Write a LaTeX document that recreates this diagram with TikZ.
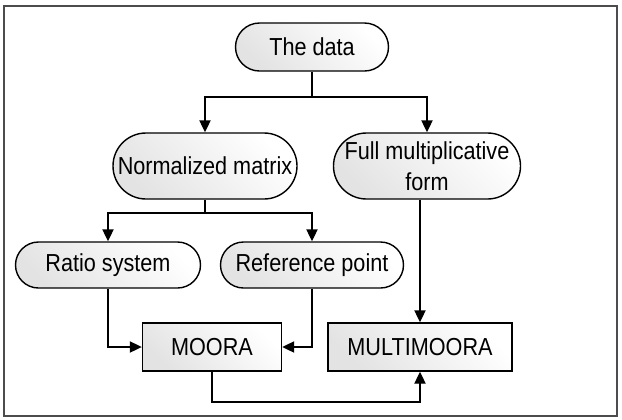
\documentclass[tikz,border=0pt]{standalone}
\usepackage{fontspec}
\setmainfont{Liberation Sans}[FakeStretch=0.88]
\usetikzlibrary{shapes.misc,arrows.meta}

\begin{document}
\begin{tikzpicture}[x=0.5pt, y=-0.5pt, line width=0.7pt,
		every node/.style={draw, align=center, font=\fontsize{12.3}{15.5}\selectfont,
		top color=white, bottom color=black!11, shading angle=-45},
		term/.style={rounded rectangle, inner sep=0pt},
		proc/.style={rectangle, inner sep=0pt},
		flow/.style={-{Triangle[length=6pt, width=5.6pt]}} ]
		\useasboundingbox (0,0) rectangle (622,419);
		\draw[black!70] (4,6) rectangle (617,416);
		\node[term, minimum width=76.5pt, minimum height=24pt] (data) at (312,47) {The data};
		\node[term, minimum width=92pt, minimum height=33pt] (norm) at (205,166) {Normalized matrix};
		\node[term, minimum width=93.5pt, minimum height=33pt] (full) at (427,166) {Full multiplicative\\form};
		\node[term, minimum width=92.5pt, minimum height=23pt] (ratio) at (108,265) {Ratio system};
		\node[term, minimum width=91.5pt, minimum height=23pt] (refp) at (312,265) {Reference point};
		\node[proc, minimum width=69.5pt, minimum height=24pt] (moora) at (212,347) {MOORA};
		\node[proc, minimum width=92pt, minimum height=24pt] (multi) at (420,347) {MULTIMOORA};
		\coordinate (fork1) at (312,97);
		\coordinate (fork2) at (205,213);
		\coordinate (low) at (212,402);
		\draw[flow] (data.south) -- (fork1) -| (norm.north);
		\draw[flow] (fork1) -| (full.north);
		\draw[flow] (norm.south) -- (fork2) -| (ratio.north);
		\draw[flow] (fork2) -| (refp.north);
		\draw[flow] (ratio.south) |- (moora.west);
		\draw[flow] (refp.south) |- (moora.east);
		\draw[flow] (full.south -| multi.north) -- (multi.north);
		\draw[flow] (moora.south) -- (low) -| (multi.south);
\end{tikzpicture}
\end{document}
